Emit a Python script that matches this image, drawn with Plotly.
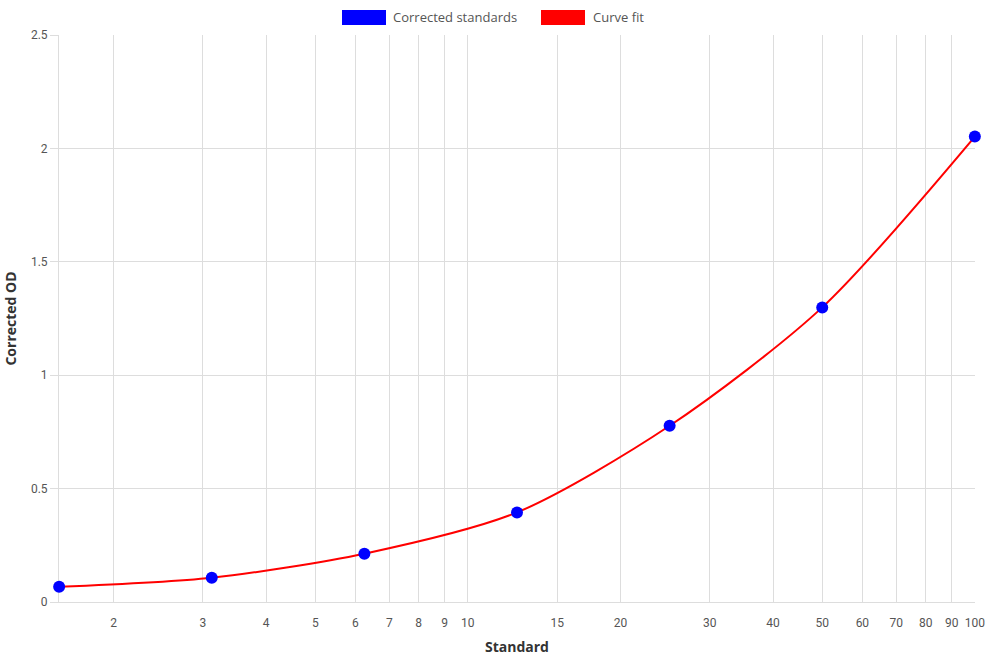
import plotly.graph_objects as go
import math

# Data
std_x = [1.5625, 3.125, 6.25, 12.5, 25, 50, 100]
std_y = [0.067, 0.107, 0.213, 0.395, 0.777, 1.299, 2.052]

fit_x = [1.5625, 3.125, 6.25, 12.5, 25, 50, 100]
fit_y = [0.067, 0.107, 0.213, 0.395, 0.777, 1.299, 2.052]

x_ticks = [2, 3, 4, 5, 6, 7, 8, 9, 10, 15, 20, 30, 40, 50, 60, 70, 80, 90, 100]
y_ticks = [0, 0.5, 1, 1.5, 2, 2.5]
y_tick_labels = ["0", "0.5", "1", "1.5", "2", "2.5"]

legend_names = ["Corrected standards", "Curve fit"]
legend_colors = ["#0000ff", "#ff0000"]

fig = go.Figure()
fig.add_trace(go.Scatter(x=fit_x, y=fit_y, mode="lines",
                         line=dict(color="#ff0000", width=2, shape="spline", smoothing=0.8),
                         name=legend_names[1], showlegend=False, hoverinfo="skip", cliponaxis=False))
fig.add_trace(go.Scatter(x=std_x, y=std_y, mode="markers",
                         marker=dict(color="#0000ff", size=12, line=dict(width=0)),
                         name=legend_names[0], showlegend=False, cliponaxis=False))

grid = "#dddddd"
fig.update_layout(
    width=990, height=660,
    margin=dict(l=59, r=15, t=35, b=58),
    paper_bgcolor="white", plot_bgcolor="white",
    font=dict(family="Roboto, Liberation Sans, sans-serif", size=12, color="#666666"),
    xaxis=dict(type="log", range=[math.log10(1.5625) - 0.0003, 2.0003], tickvals=x_ticks, ticktext=[str(v) for v in x_ticks],
               automargin=False, layer="below traces",
               showgrid=True, gridcolor=grid, gridwidth=1, zeroline=False,
               showline=True, linecolor=grid, mirror=False,
               ticks="", ticklen=0, ticklabelstandoff=10,
               tickfont=dict(family="Roboto, sans-serif", size=12, color="#555555"),
               title=dict(text="<b>Standard</b>", font=dict(family="Open Sans, sans-serif", size=14, color="#333333"), standoff=12)),
    yaxis=dict(range=[0, 2.5], tickvals=y_ticks, ticktext=y_tick_labels,
               automargin=False, layer="below traces",
               showgrid=True, gridcolor=grid, gridwidth=1, zeroline=False,
               showline=True, linecolor=grid,
               ticks="outside", ticklen=8, tickcolor=grid,
               tickfont=dict(family="Roboto, sans-serif", size=12, color="#555555"),
               title=dict(text="<b>Corrected OD</b>", font=dict(family="Open Sans, sans-serif", size=14, color="#333333"), standoff=11)),
)

shapes = []
annotations = []
box_x = [342, 541]
text_x = [393, 593]
for i in range(2):
    shapes.append(dict(type="rect", xref="paper", yref="paper",
                       x0=(box_x[i] - 59) / 916, x1=(box_x[i] + 44 - 59) / 916,
                       y0=(602 - 25) / 567, y1=(602 - 10) / 567,
                       fillcolor=legend_colors[i], line=dict(width=0)))
    annotations.append(dict(xref="paper", yref="paper", x=(text_x[i] - 59) / 916, y=(602 - 17) / 567,
                            text=legend_names[i], showarrow=False, xanchor="left", yanchor="middle",
                            xshift=-2,
                            font=dict(family="Open Sans, sans-serif", size=13, color="#555555")))
fig.update_layout(shapes=shapes, annotations=annotations)

fig.write_html("out.html")
